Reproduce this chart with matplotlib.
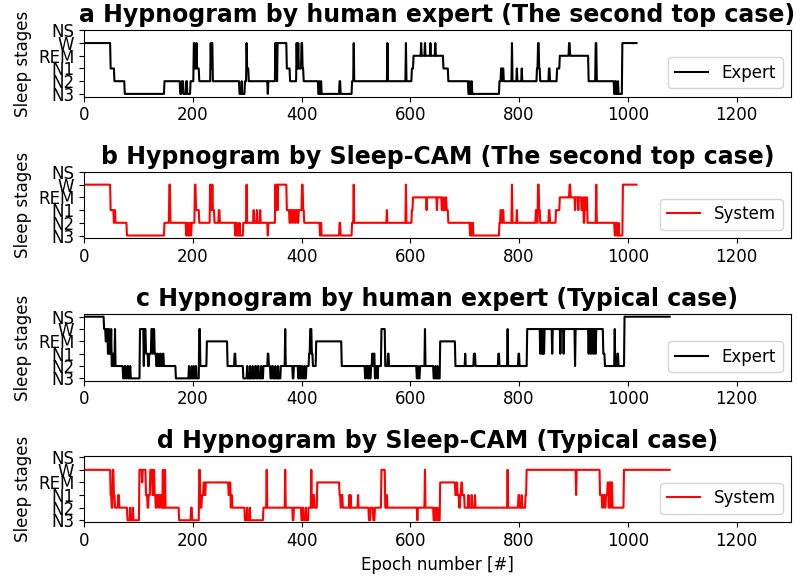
import matplotlib
matplotlib.use('Agg')
import matplotlib.pyplot as plt
import numpy as np

stage_names = ['N3', 'N2', 'N1', 'REM', 'W', 'NS']

# hypnograms as (epoch where stage starts, stage)
a_t = [0, 49, 56, 75, 148, 177, 180, 183, 188, 190, 196, 202, 204, 207, 208, 212,
       233, 234, 235, 237, 286, 290, 291, 296, 299, 300, 303, 338, 339, 352, 353,
       354, 355, 356, 373, 379, 391, 392, 394, 395, 400, 402, 404, 431, 433, 434,
       436, 437, 470, 472, 493, 496, 497, 558, 559, 592, 593, 603, 606, 620, 621,
       627, 628, 637, 638, 646, 647, 661, 670, 707, 709, 710, 713, 714, 764, 767,
       769, 770, 772, 787, 788, 796, 797, 805, 806, 833, 835, 837, 839, 855, 857,
       870, 875, 892, 894, 928, 941, 943, 975, 977, 979, 982, 983, 990]
a_s = ['W', 'N1', 'N2', 'N3', 'N2', 'N3', 'N2', 'N3', 'N2', 'N3', 'N2', 'W', 'N1', 'W', 'N1', 'N2',
       'W', 'N1', 'W', 'N2', 'N3', 'N2', 'N3', 'N2', 'W', 'N1', 'N2', 'N3', 'N2', 'W', 'N1',
       'W', 'N2', 'W', 'N1', 'N2', 'W', 'N1', 'W', 'N1', 'W', 'N1', 'N2', 'N3', 'N2', 'N3',
       'N2', 'N3', 'N2', 'N3', 'N2', 'W', 'N2', 'W', 'N2', 'W', 'N2', 'N1', 'REM', 'W', 'REM',
       'W', 'REM', 'W', 'REM', 'W', 'REM', 'N1', 'N2', 'N3', 'N2', 'N3', 'N2', 'N3', 'N2', 'N1',
       'N2', 'N1', 'N2', 'W', 'N2', 'N1', 'N2', 'N1', 'N2', 'N1', 'W', 'N1', 'N2', 'N1', 'N2',
       'N1', 'REM', 'W', 'REM', 'N2', 'W', 'N2', 'N3', 'N2', 'N3', 'N2', 'N3', 'W']
a_end = 1017

b_t = [0, 49, 55, 56, 58, 79, 148, 157, 159, 188, 190, 192, 195, 197, 198, 204, 206,
       212, 232, 234, 236, 237, 240, 248, 250, 278, 280, 282, 286, 287, 293, 299,
       300, 312, 313, 318, 319, 324, 325, 338, 339, 352, 353, 354, 356, 357, 373,
       378, 380, 383, 385, 388, 390, 393, 395, 401, 403, 405, 434, 436, 437, 470,
       472, 493, 496, 497, 557, 558, 592, 593, 603, 605, 630, 631, 649, 650, 658,
       660, 662, 665, 667, 670, 710, 712, 713, 715, 716, 764, 766, 768, 770, 772,
       787, 788, 796, 797, 831, 833, 835, 837, 839, 855, 857, 868, 875, 893, 895,
       903, 904, 909, 910, 915, 917, 919, 921, 923, 925, 926, 942, 943, 976, 978,
       980, 983, 984, 991]
b_s = ['W', 'N1', 'N2', 'N1', 'N2', 'N3', 'N2', 'W', 'N2', 'N3', 'N2', 'N3', 'N2', 'N3', 'N2', 'W', 'N1',
       'N2', 'W', 'N1', 'W', 'N1', 'N2', 'N1', 'N2', 'N3', 'N2', 'N3', 'N2', 'N3', 'N2', 'W',
       'N2', 'N1', 'N2', 'N1', 'N2', 'N1', 'N2', 'N3', 'N2', 'W', 'N1', 'W', 'N1', 'W', 'N1',
       'N2', 'N1', 'N2', 'N1', 'N2', 'N1', 'N2', 'N1', 'W', 'N1', 'N2', 'N3', 'N2', 'N3', 'N2',
       'N3', 'N2', 'W', 'N2', 'N1', 'N2', 'W', 'N2', 'N1', 'REM', 'N1', 'REM', 'N1', 'REM', 'N1',
       'REM', 'N1', 'REM', 'N1', 'N2', 'N3', 'N2', 'N3', 'N2', 'N3', 'N2', 'N1', 'N2', 'N1', 'N2',
       'W', 'N2', 'N1', 'N2', 'N1', 'N2', 'W', 'N1', 'N2', 'N1', 'N2', 'N1', 'REM', 'W', 'REM',
       'N1', 'REM', 'N1', 'REM', 'N1', 'REM', 'N2', 'REM', 'N1', 'REM', 'N2', 'W', 'N2', 'N3', 'N2',
       'N3', 'N2', 'N3', 'W']
b_end = 1017

c_t = [0, 37, 40, 42, 44, 46, 47, 50, 51, 53, 55, 57, 58, 72, 75, 77, 80, 82, 85, 86,
       103, 110, 111, 114, 118, 120, 124, 126, 128, 130, 133, 135, 137, 140, 142,
       145, 147, 169, 193, 194, 198, 199, 202, 203, 206, 207, 212, 214, 226, 264,
       277, 279, 293, 300, 301, 305, 306, 310, 311, 315, 317, 320, 322, 326, 327,
       330, 338, 340, 343, 346, 348, 352, 353, 357, 358, 362, 370, 371, 384, 386,
       394, 396, 398, 400, 402, 405, 406, 409, 414, 416, 419, 421, 427, 474, 517,
       519, 522, 524, 526, 528, 530, 532, 533, 535, 537, 540, 541, 547, 554, 559,
       561, 612, 614, 615, 618, 627, 628, 643, 646, 647, 650, 651, 655, 683, 701,
       702, 717, 720, 762, 764, 779, 780, 799, 801, 815, 839, 840, 842, 843, 844,
       845, 846, 847, 861, 862, 876, 877, 882, 883, 903, 904, 928, 929, 931, 932,
       934, 935, 937, 938, 940, 942, 955, 958, 976, 977, 981, 983, 994]
c_s = ['NS', 'W', 'REM', 'W', 'N1', 'W', 'N1', 'W', 'N2', 'N1', 'N2', 'W', 'N2', 'N3', 'N2', 'N3', 'N2', 'N3', 'N2', 'N3',
       'W', 'N2', 'W', 'N1', 'N2', 'N1', 'W', 'N1', 'W', 'N1', 'N2', 'N1', 'N2', 'N1', 'N2',
       'N1', 'N2', 'N3', 'N2', 'N3', 'N2', 'N3', 'N2', 'N3', 'N2', 'N3', 'W', 'N2', 'REM', 'N2',
       'N1', 'N2', 'N3', 'N2', 'N3', 'N2', 'N3', 'N2', 'N3', 'N2', 'N3', 'N2', 'N3', 'N2', 'N3',
       'N2', 'N1', 'N2', 'N3', 'N2', 'N3', 'N2', 'N3', 'N2', 'N3', 'N2', 'W', 'N2', 'N3', 'N2',
       'N3', 'N2', 'N3', 'N2', 'N3', 'N2', 'N3', 'N2', 'N1', 'W', 'N1', 'N2', 'REM', 'N2', 'N3',
       'N2', 'N3', 'N2', 'N3', 'N2', 'N1', 'N2', 'N1', 'N3', 'N2', 'N3', 'N2', 'W', 'N2', 'N1',
       'N2', 'N3', 'N2', 'N3', 'N2', 'W', 'N2', 'N3', 'N2', 'N3', 'N2', 'N3', 'REM', 'N2', 'N1',
       'N2', 'N1', 'N2', 'N1', 'N2', 'W', 'N2', 'N1', 'N2', 'W', 'N1', 'W', 'N1', 'W', 'N1',
       'W', 'N1', 'W', 'N1', 'W', 'N1', 'W', 'N1', 'W', 'N2', 'W', 'N1', 'W', 'N1', 'W',
       'N1', 'W', 'N1', 'W', 'N1', 'W', 'N1', 'N2', 'W', 'N2', 'N1', 'N2', 'NS']
c_end = 1078

d_t = [0, 49, 51, 53, 55, 57, 63, 65, 80, 85, 86, 90, 91, 102, 107, 108, 114, 117,
       119, 122, 126, 128, 130, 132, 134, 137, 139, 142, 145, 146, 149, 150, 175,
       197, 199, 212, 214, 217, 220, 222, 224, 266, 268, 270, 271, 273, 296, 300,
       301, 305, 306, 330, 336, 337, 370, 371, 384, 386, 400, 402, 404, 408, 409,
       413, 418, 419, 422, 424, 429, 470, 472, 474, 476, 488, 489, 490, 491, 504,
       505, 524, 527, 532, 535, 547, 554, 557, 558, 613, 614, 627, 628, 643, 646,
       647, 650, 651, 655, 683, 685, 687, 690, 692, 694, 696, 700, 707, 708, 713,
       714, 719, 720, 779, 780, 799, 801, 805, 806, 812, 814, 905, 906, 949, 953,
       955, 958, 960, 963, 965, 967, 969, 970, 972, 993]
d_s = ['W', 'N1', 'N2', 'W', 'N1', 'N2', 'N1', 'N2', 'N3', 'N2', 'N3', 'N2', 'N3', 'W', 'REM', 'W', 'N1', 'N2',
       'N1', 'W', 'N1', 'W', 'N1', 'N2', 'N1', 'N2', 'N1', 'N2', 'W', 'N2', 'W', 'N2', 'N3',
       'N2', 'N3', 'W', 'N2', 'N1', 'REM', 'N1', 'REM', 'N1', 'REM', 'N2', 'N1', 'N2', 'N3', 'N2',
       'N3', 'N2', 'N3', 'N2', 'W', 'N2', 'W', 'N2', 'N3', 'N2', 'N3', 'N2', 'N3', 'N2', 'N3',
       'N2', 'W', 'N2', 'N1', 'N2', 'REM', 'N1', 'N2', 'N1', 'N2', 'N1', 'N2', 'N1', 'N2', 'N1',
       'N2', 'N3', 'N2', 'N3', 'N2', 'W', 'N2', 'N1', 'N2', 'N3', 'N2', 'W', 'N2', 'N3', 'N2',
       'N3', 'N2', 'N3', 'REM', 'N1', 'REM', 'N1', 'N2', 'N1', 'REM', 'N1', 'N2', 'N1', 'N2', 'N1',
       'N2', 'N1', 'N2', 'W', 'N2', 'N1', 'N2', 'N1', 'N2', 'N1', 'W', 'N1', 'W', 'N1', 'N2',
       'N1', 'N2', 'N1', 'REM', 'N2', 'REM', 'N2', 'REM', 'N2', 'W']
d_end = 1078


def expand(starts, stages, end):
    durs = np.diff(list(starts) + [end])
    vals = [stage_names.index(s) for s in stages]
    return np.repeat(vals, durs)


panels = [
    ('a Hypnogram by human expert (The second top case)', a_t, a_s, a_end, 'k', 'Expert', (-0.22, 5.0)),
    ('b Hypnogram by Sleep-CAM (The second top case)', b_t, b_s, b_end, 'red', 'System', (-0.22, 5.0)),
    ('c Hypnogram by human expert (Typical case)', c_t, c_s, c_end, 'k', 'Expert', (-0.19, 5.19)),
    ('d Hypnogram by Sleep-CAM (Typical case)', d_t, d_s, d_end, 'red', 'System', (-0.16, 5.1)),
]
bottoms = [0.8324, 0.587, 0.3402, 0.0948]

fig = plt.figure(figsize=(7.97, 5.77), dpi=100)
for (title, t, s, end, col, lab, yl), bot in zip(panels, bottoms):
    ax = fig.add_axes([0.1054, bot, 0.887, 0.115])
    y = expand(t, s, end)
    ax.plot(np.arange(len(y)), y, color=col, label=lab)
    ax.set_xlim(0, 1300)
    ax.set_ylim(*yl)
    ax.set_yticks(range(len(stage_names)))
    ax.set_yticklabels(stage_names, fontsize=12)
    ax.tick_params(axis='x', labelsize=12)
    ax.set_ylabel('Sleep stages', fontsize=12)
    ax.set_title(title, fontsize=17, fontweight='bold')
    ax.legend(loc='lower right', fontsize=12)
ax.set_xlabel('Epoch number [#]', fontsize=12)

fig.savefig('out.png', dpi=100)
